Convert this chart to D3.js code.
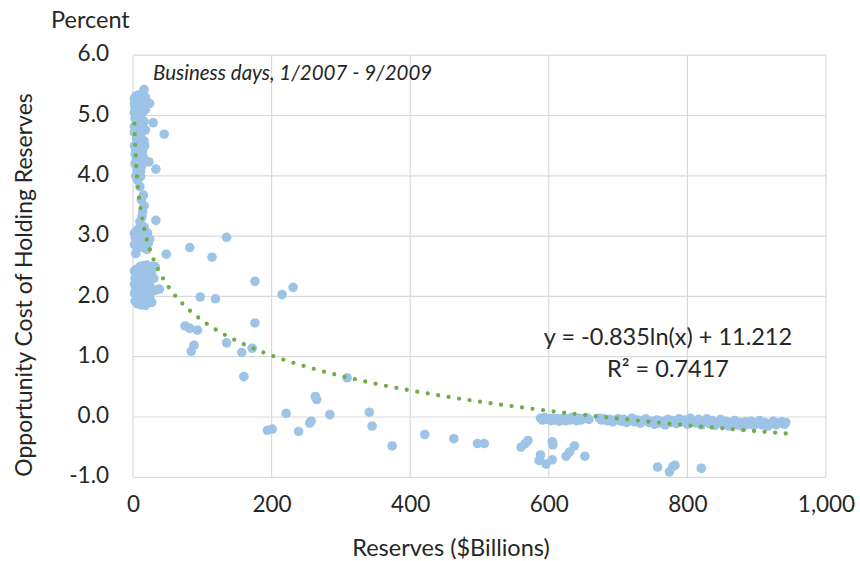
<!DOCTYPE html>
<html>
<head>
<meta charset="utf-8">
<script src="https://cdn.jsdelivr.net/npm/d3@7"></script>
<style>
  html, body { margin: 0; padding: 0; background: #fff; }
  svg text { font-family: Lato, "Open Sans", sans-serif; fill: #262626; }
</style>
</head>
<body>
<svg id="chart" width="860" height="561"></svg>
<script>
// Daily observations, [reserves in $billions, opportunity cost in percent]
const period2007 = [
  [16,5.43],[4,5.32],[8,5.34],[12,5.3],[2,5.28],[6,5.26],[10,5.29],[14,5.27],[18,5.3],[20,5.22],
  [24,5.2],[2,5.2],[3,5.15],[7,5.18],[12,5.12],[9,5.22],[15,5.17],[2,5.05],[5,5.08],[9,5.02],
  [14,5.05],[18,5.1],[3,4.95],[8,4.92],[12,4.97],[16,4.9],[29,4.88],[2,4.82],[6,4.8],[10,4.85],
  [15,4.78],[2,4.72],[4,4.75],[9,4.7],[13,4.73],[18,4.76],[45,4.69],[5,4.62],[11,4.6],[16,4.58],
  [2,4.5],[7,4.52],[12,4.48],[17,4.5],[4,4.44],[9,4.4],[14,4.42],[3,4.36],[8,4.32],[13,4.35],
  [5,4.28],[10,4.25],[15,4.3],[23,4.23],[3,4.2],[8,4.18],[12,4.15],[33,4.11],[6,4.1],[11,4.08],
  [4,4.0],[11,3.99],[7,3.92],[10,3.82],[15,3.68],[12,3.6],[16,3.5],[14,3.4]
];
const periodEarly2008 = [
  [10,3.24],[33,3.26],[13,3.32],[2,3.05],[3,2.98],[5,3.08],[7,2.9],[9,3.02],[11,2.95],[13,3.1],
  [15,2.85],[17,3.0],[19,2.92],[21,3.05],[2,2.86],[6,2.8],[12,2.82],[4,2.71],[20,2.78],[24,2.95],
  [8,3.12],[16,3.15],[18,2.8],[22,2.88],[48,2.7],[20,2.52],[16,2.51],[24,2.49]
];
const periodMid2008 = [
  [2,2.42],[3,2.3],[5,2.45],[8,2.36],[11,2.5],[14,2.44],[17,2.48],[20,2.5],[23,2.46],[26,2.4],
  [28,2.5],[32,2.49],[2,2.2],[6,2.25],[9,2.15],[12,2.28],[15,2.2],[18,2.32],[21,2.25],[24,2.18],
  [30,2.3],[2,2.05],[4,2.1],[7,2.0],[10,2.08],[13,1.98],[16,2.05],[19,2.12],[22,2.02],[25,2.1],
  [28,2.08],[34,2.11],[38,2.12],[3,1.92],[6,1.88],[9,1.95],[12,1.86],[15,1.9],[18,1.85],[21,1.92],
  [24,1.97],[27,1.9],[5,2.35],[10,2.4]
];
const periodLate2008 = [
  [82,2.81],[114,2.65],[135,2.98],[176,2.25],[97,1.99],[119,1.96],[215,2.03],[231,2.15],[75,1.51],[82,1.47],
  [93,1.44],[176,1.56],[88,1.19],[84,1.09],[135,1.23],[157,1.07],[172,1.14],[160,0.67],[309,0.65],[263,0.34],
  [265,0.29],[221,0.06],[284,0.04],[341,0.08],[345,-0.15],[194,-0.22],[201,-0.2],[239,-0.24],[257,-0.07],[255,-0.1],
  [374,-0.48],[421,-0.29],[463,-0.36],[497,-0.44],[507,-0.44],[560,-0.5],[566,-0.44],[570,-0.39],[605,-0.41],[606,-0.46],
  [586,-0.72],[588,-0.63],[596,-0.78],[605,-0.71],[625,-0.65],[630,-0.58],[637,-0.48],[652,-0.65],[757,-0.83],[774,-0.91],
  [779,-0.82],[782,-0.8],[820,-0.85]
];
const period2009 = [
  [588,-0.02],[591,-0.05],[594,-0.01],[597,-0.04],[600,-0.03],[603,-0.06],[606,-0.02],[609,-0.05],[612,-0.03],[615,-0.07],
  [618,-0.04],[621,-0.02],[624,-0.06],[627,-0.03],[630,-0.05],[633,-0.01],[636,-0.04],[640,-0.06],[643,-0.02],[646,-0.05],
  [650,-0.03],[654,-0.01],[658,-0.04],[673,-0.02],[676,-0.05],[680,-0.03],[684,-0.06],[688,-0.04],[692,-0.08],[696,-0.05],
  [700,-0.03],[704,-0.07],[708,-0.04],[712,-0.09],[716,-0.06],[720,-0.02],[724,-0.08],[728,-0.05],[732,-0.1],[736,-0.06],
  [740,-0.03],[744,-0.09],[748,-0.07],[752,-0.12],[756,-0.05],[760,-0.1],[764,-0.07],[768,-0.13],[772,-0.04],[776,-0.09],
  [780,-0.06],[784,-0.11],[788,-0.03],[792,-0.08],[796,-0.05],[800,-0.12],[804,-0.02],[808,-0.07],[812,-0.1],[816,-0.04],
  [820,-0.13],[824,-0.08],[828,-0.03],[832,-0.11],[836,-0.06],[840,-0.14],[844,-0.09],[848,-0.04],[852,-0.12],[856,-0.07],
  [860,-0.15],[864,-0.1],[868,-0.06],[872,-0.13],[876,-0.09],[880,-0.16],[884,-0.08],[888,-0.12],[892,-0.07],[896,-0.14],
  [900,-0.1],[904,-0.06],[908,-0.13],[912,-0.09],[916,-0.15],[920,-0.11],[924,-0.07],[928,-0.13],[932,-0.1],[936,-0.08],
  [940,-0.12],[942,-0.09]
];

const xTicks = [0, 200, 400, 600, 800, 1000];
const yTicks = [-1, 0, 1, 2, 3, 4, 5, 6];

// Logarithmic fit reported by the spreadsheet (x measured in $millions)
const fitSlope = -0.835;
const fitIntercept = 11.212;
const fitR2 = 0.7417;

const observations = [].concat(period2007, periodEarly2008, periodMid2008, periodLate2008, period2009);

const svg = d3.select("#chart");
const plot = { left: 133, right: 826, top: 55.2, bottom: 477.3 };

const x = d3.scaleLinear().domain([0, 1000]).range([plot.left, plot.right]);
const y = d3.scaleLinear().domain([-1, 6]).range([plot.bottom, plot.top]);

// Gridlines
const grid = svg.append("g").attr("stroke", "#d9d9d9").attr("stroke-width", 1.2);
grid.selectAll("line.h").data(yTicks).join("line")
  .attr("x1", plot.left).attr("x2", plot.right)
  .attr("y1", d => y(d)).attr("y2", d => y(d));
grid.selectAll("line.v").data(xTicks).join("line")
  .attr("y1", plot.top).attr("y2", plot.bottom)
  .attr("x1", d => x(d)).attr("x2", d => x(d));

// Axes (labels only; lines come from the grid); plain hyphen for negatives
const fmtY = d => d3.format(".1f")(d).replace("\u2212", "-");
const yAxis = svg.append("g")
  .attr("transform", `translate(${plot.left - 24},0)`)
  .call(d3.axisLeft(y).tickValues(yTicks).tickFormat(fmtY).tickSize(0).tickPadding(0));
yAxis.select(".domain").remove();
yAxis.selectAll("text").attr("font-size", 22.5).attr("font-family", "Lato").attr("fill", "#262626").attr("dy", "0.25em");

const xAxis = svg.append("g")
  .attr("transform", `translate(0,${plot.bottom + 14})`)
  .call(d3.axisBottom(x).tickValues(xTicks).tickFormat(d3.format(",")).tickSize(0).tickPadding(0));
xAxis.select(".domain").remove();
xAxis.selectAll("text").attr("font-size", 22.5).attr("font-family", "Lato").attr("fill", "#262626").attr("dy", "0.9em");

// Scatter points
svg.append("g").selectAll("circle").data(observations).join("circle")
  .attr("cx", d => x(d[0]))
  .attr("cy", d => y(d[1]))
  .attr("r", 4.8)
  .attr("fill", "#9dc3e6");

// Trendline over the observed range
const xMin = d3.min(observations, d => d[0]);
const xMax = d3.max(observations, d => d[0]);
const fit = v => fitSlope * Math.log(v * 1000) + fitIntercept;
const samples = d3.range(0, 401).map(i => xMin * Math.pow(xMax / xMin, i / 400));
svg.append("path")
  .datum(samples)
  .attr("fill", "none")
  .attr("stroke", "#70ad47")
  .attr("stroke-width", 4.3)
  .attr("stroke-linecap", "round")
  .attr("stroke-dasharray", "0 10.6")
  .attr("d", d3.line().x(d => x(d)).y(d => y(fit(d))));

// Titles and annotations
svg.append("text").attr("x", 51).attr("y", 28).attr("font-size", 23.5).text("Percent");

svg.append("text").attr("x", 153).attr("y", 80).attr("font-size", 20.5)
  .attr("font-style", "italic").text("Business days, 1/2007 - 9/2009");

svg.append("text").attr("x", 451).attr("y", 556).attr("font-size", 23.5)
  .attr("text-anchor", "middle").text("Reserves ($Billions)");

svg.append("text")
  .attr("transform", "translate(32,285) rotate(-90)")
  .attr("font-size", 23).attr("text-anchor", "middle")
  .text("Opportunity Cost of Holding Reserves");

const eq = svg.append("g").attr("font-size", 23.5).attr("text-anchor", "middle");
eq.append("text").attr("x", 668).attr("y", 345)
  .text(`y = ${fitSlope}ln(x) + ${fitIntercept}`);
eq.append("text").attr("x", 668).attr("y", 377)
  .text(`R² = ${fitR2}`);
</script>
</body>
</html>
